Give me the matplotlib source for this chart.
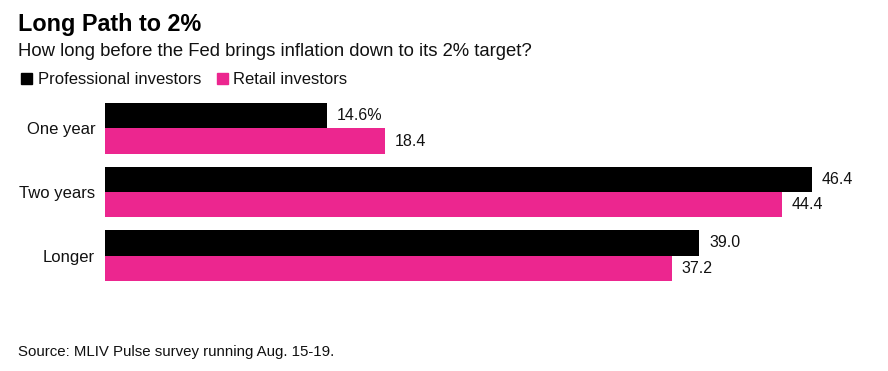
import matplotlib
matplotlib.use('Agg')
import matplotlib.pyplot as plt
import numpy as np

# data
categories = ['One year', 'Two years', 'Longer']
professional = [14.6, 46.4, 39.0]
retail = [18.4, 44.4, 37.2]
series_names = ['Professional investors', 'Retail investors']

plt.rcParams['font.family'] = ['Liberation Sans', 'DejaVu Sans']

black = '#000000'
pink = '#EC268F'

fig = plt.figure(figsize=(8.88, 3.71), dpi=100)
ax = fig.add_axes([0.1182, 0.2253, 0.8582, 0.5143])

y = np.arange(len(categories))
bar_h = 0.4
pro_bars = ax.barh(y - bar_h / 2, professional, height=bar_h, color=black)
ret_bars = ax.barh(y + bar_h / 2, retail, height=bar_h, color=pink)

# value labels to the right of each bar
for i, bar in enumerate(pro_bars):
    txt = f'{professional[i]:.1f}%' if i == 0 else f'{professional[i]:.1f}'
    ax.annotate(txt, (bar.get_width(), bar.get_y() + bar.get_height() / 2),
                xytext=(7, 0), textcoords='offset points',
                va='center', ha='left', fontsize=11.5, color='#111111')
for i, bar in enumerate(ret_bars):
    ax.annotate(f'{retail[i]:.1f}', (bar.get_width(), bar.get_y() + bar.get_height() / 2),
                xytext=(7, 0), textcoords='offset points',
                va='center', ha='left', fontsize=11.5, color='#111111')

ax.set_xlim(0, 50)
ax.set_ylim(len(categories) - 0.5, -0.5)
ax.set_yticks(y)
ax.set_yticklabels(categories, fontsize=12, color='#111111')
ax.tick_params(axis='y', length=0, pad=7)
ax.set_xticks([])
for s in ax.spines.values():
    s.set_visible(False)

# title, subtitle, legend, source
fig.text(18 / 888, 1 - 31 / 371, 'Long Path to 2%', fontsize=16.8, fontweight='bold',
         ha='left', va='baseline')
fig.text(18 / 888, 1 - 56 / 371, 'How long before the Fed brings inflation down to its 2% target?',
         fontsize=13.3, ha='left', va='baseline', color='#111111')

fig.patches.append(plt.Rectangle((21 / 888, 1 - 84 / 371), 11 / 888, 11 / 371,
                                 transform=fig.transFigure, color=black))
fig.text(38 / 888, 1 - 84 / 371, series_names[0], fontsize=12, ha='left', va='baseline',
         color='#111111')
fig.patches.append(plt.Rectangle((217 / 888, 1 - 84 / 371), 11 / 888, 11 / 371,
                                 transform=fig.transFigure, color=pink))
fig.text(233 / 888, 1 - 84 / 371, series_names[1], fontsize=12, ha='left', va='baseline',
         color='#111111')

fig.text(18 / 888, 1 - 356 / 371, 'Source: MLIV Pulse survey running Aug. 15-19.',
         fontsize=10.8, ha='left', va='baseline', color='#111111')

fig.savefig('out.png', dpi=100, facecolor='white')
